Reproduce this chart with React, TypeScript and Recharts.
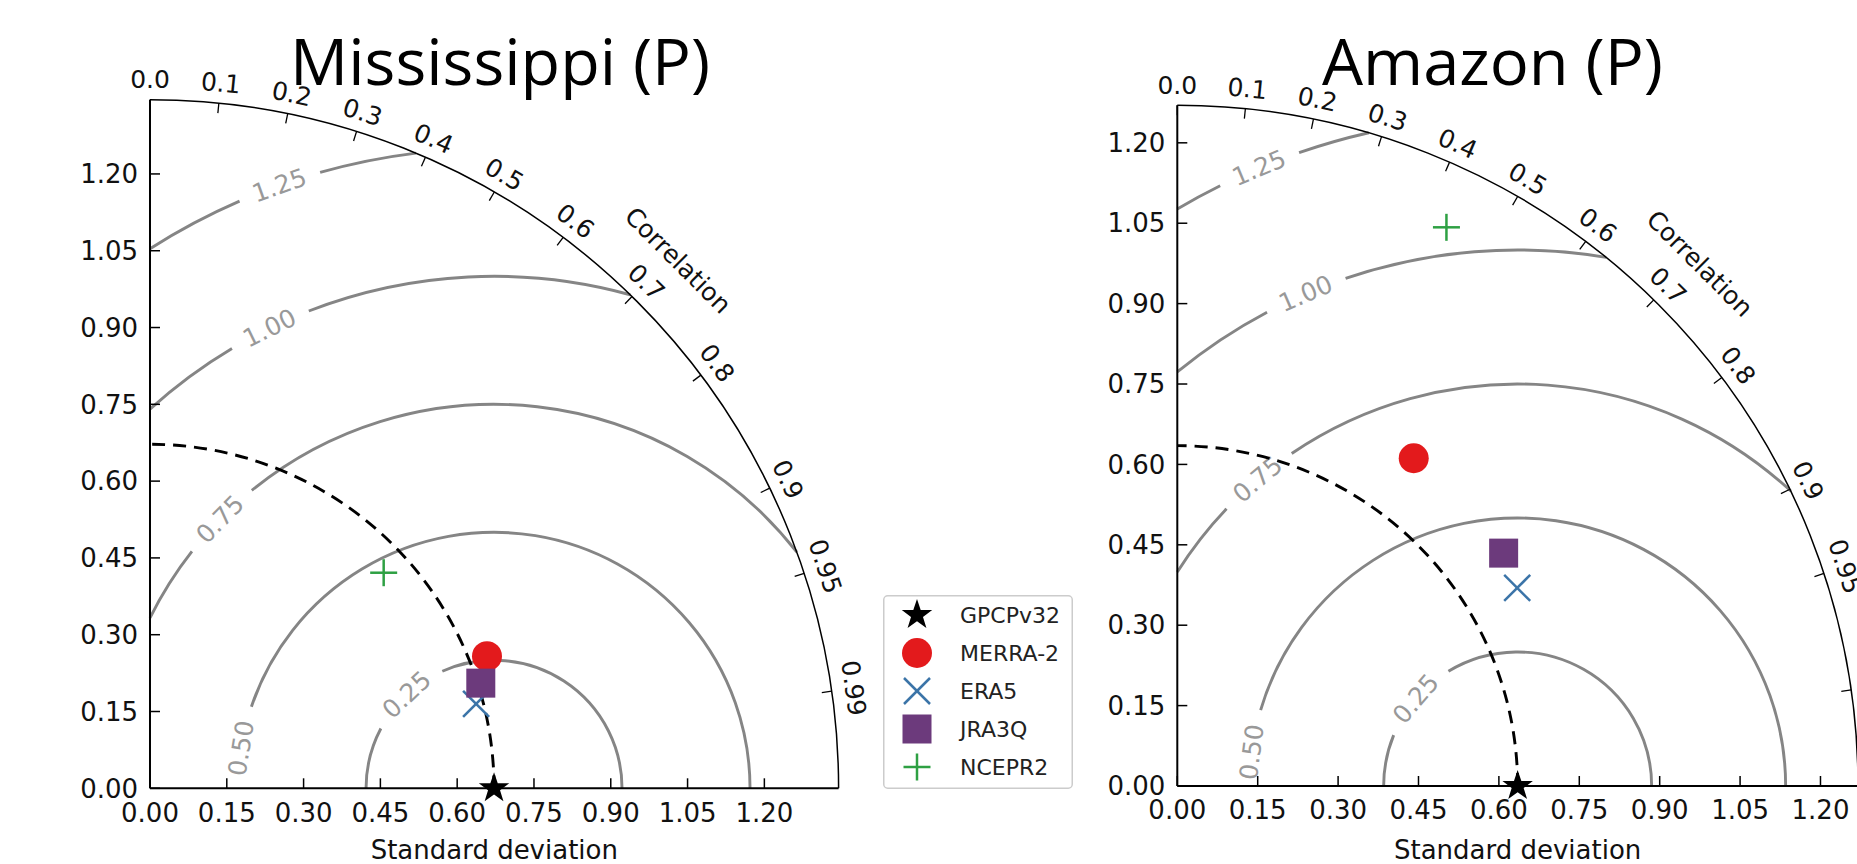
import React from "react";
import { ScatterChart, Scatter, XAxis, YAxis, ReferenceArea, Legend } from "recharts";

const models = ["GPCPv32", "MERRA-2", "ERA5", "JRA3Q", "NCEPR2"];
const modelColors = ["#000000", "#e31a1c", "#3b74a8", "#6c3a7c", "#2ea043"];
const modelMarkers = ["star", "circle", "x", "square", "plus"];

// standard deviation and correlation
const missStd = [0.672, 0.707, 0.658, 0.678, 0.621];
const missCorr = [1.0, 0.931, 0.968, 0.953, 0.735];
const amzStd = [0.635, 0.754, 0.734, 0.748, 1.157];
const amzCorr = [1.0, 0.585, 0.864, 0.814, 0.434];

const stdTicks = [0, 0.15, 0.3, 0.45, 0.6, 0.75, 0.9, 1.05, 1.2];
const corrTicks = [0, 0.1, 0.2, 0.3, 0.4, 0.5, 0.6, 0.7, 0.8, 0.9, 0.95, 0.99];
const corrTickLabels = ["0.0", "0.1", "0.2", "0.3", "0.4", "0.5", "0.6", "0.7", "0.8", "0.9", "0.95", "0.99"];
const rmsLevels = [0.25, 0.5, 0.75, 1.0, 1.25];

const FONT = "'DejaVu Sans', sans-serif";

const panels = [
  {
    title: "Mississippi (P)",
    std: missStd,
    corr: missCorr,
    maxStd: 1.345,
    left: 0,
    axisW: 150,
    top: 99.7,
    size: 688.6,
    bottom: 75.7,
    right: 260,
    rmsAngles: [133, 171, 135.5, 116, 109.6],
    titleX: 500,
    titleLen: 420,
    legend: true,
  },
  {
    title: "Amazon (P)",
    std: amzStd,
    corr: amzCorr,
    maxStd: 1.27,
    left: 900,
    axisW: 277.3,
    top: 105.3,
    size: 680.7,
    bottom: 78,
    right: 2,
    rmsAngles: [139.4, 172.7, 130.3, 113.3, 112.7],
    titleX: 1492.5,
    titleLen: 341,
    legend: false,
  },
];

const toXY = (s: number, c: number) => ({ x: s * c, y: s * Math.sqrt(Math.max(0, 1 - c * c)) });

function Marker({ cx, cy, kind, color }: { cx: number; cy: number; kind: string; color: string }) {
  if (cx == null || cy == null) return null;
  if (kind === "star") {
    const pts: string[] = [];
    for (let k = 0; k < 10; k++) {
      const r = k % 2 === 0 ? 16 : 6.3;
      const a = -Math.PI / 2 + (k * Math.PI) / 5;
      pts.push(`${cx + r * Math.cos(a)},${cy + r * Math.sin(a)}`);
    }
    return <polygon points={pts.join(" ")} fill={color} />;
  }
  if (kind === "circle") return <circle cx={cx} cy={cy} r={15} fill={color} />;
  if (kind === "square") return <rect x={cx - 14.5} y={cy - 14.5} width={29} height={29} fill={color} />;
  if (kind === "x") {
    const d = 13;
    return (
      <g stroke={color} strokeWidth={2.5}>
        <line x1={cx - d} y1={cy - d} x2={cx + d} y2={cy + d} />
        <line x1={cx - d} y1={cy + d} x2={cx + d} y2={cy - d} />
      </g>
    );
  }
  const d = 13.5;
  return (
    <g stroke={color} strokeWidth={2.5}>
      <line x1={cx - d} y1={cy} x2={cx + d} y2={cy} />
      <line x1={cx} y1={cy - d} x2={cx} y2={cy + d} />
    </g>
  );
}

// polar grid of the Taylor diagram, drawn inside the reference area that spans the whole plot
function TaylorGrid(p: any) {
  const { x, y, width, height, maxStd, refStd, rmsAngles } = p;
  if (![x, y, width, height].every((v) => typeof v === "number" && isFinite(v))) return null;
  const kx = width / maxStd;
  const ky = height / maxStd;
  const ox = x;
  const oy = y + height;
  const px = (u: number) => ox + u * kx;
  const py = (v: number) => oy - v * ky;
  const deg = (a: number) => (a * 180) / Math.PI;
  const arc = (cx: number, r: number, a0: number, a1: number) => {
    const x0 = px(cx + r * Math.cos(a0));
    const y0 = py(r * Math.sin(a0));
    const x1 = px(cx + r * Math.cos(a1));
    const y1 = py(r * Math.sin(a1));
    return `M${x0},${y0}A${r * kx},${r * ky} 0 ${a1 - a0 > Math.PI ? 1 : 0} 0 ${x1},${y1}`;
  };

  const contours = rmsLevels.map((r, i) => {
    const cMin = (maxStd * maxStd - refStd * refStd - r * r) / (2 * refStd * r);
    const a0 = cMin >= 1 ? 0 : Math.acos(Math.max(-1, cMin));
    const a1 = Math.acos(Math.max(-1, Math.min(1, -refStd / r)));
    const la = (rmsAngles[i] * Math.PI) / 180;
    const text = r.toFixed(2);
    const gap = (text.length * 0.556 * 25) / 2 + 15;
    const half = gap / ((r * (kx + ky)) / 2);
    const pieces = [
      [a0, la - half],
      [la + half, a1],
    ].filter(([a, b]) => b > a);
    const lx = px(refStd + r * Math.cos(la));
    const ly = py(r * Math.sin(la));
    return (
      <g key={r}>
        {pieces.map(([a, b], j) => (
          <path key={j} d={arc(refStd, r, a, b)} fill="none" stroke="#858585" strokeWidth={2.9} />
        ))}
        <text
          x={lx}
          y={ly}
          transform={`rotate(${90 - deg(la)} ${lx} ${ly})`}
          textAnchor="middle"
          dominantBaseline="central"
          fontSize={25}
          fill="#999999"
          fontFamily={FONT}
        >
          {text}
        </text>
      </g>
    );
  });

  const rx = maxStd * kx;
  const ry = maxStd * ky;
  const ticks = corrTicks.map((c, i) => {
    const t = Math.acos(c);
    const cs = Math.cos(t);
    const sn = Math.sin(t);
    const off = corrTickLabels[i].length > 3 ? 22 : 20;
    const lx = ox + (rx + off) * cs;
    const ly = oy - (ry + off) * sn;
    return (
      <g key={c}>
        <line x1={ox + rx * cs} y1={oy - ry * sn} x2={ox + (rx - 10) * cs} y2={oy - (ry - 10) * sn} stroke="#000" strokeWidth={1.3} />
        <text
          x={lx}
          y={ly}
          transform={`rotate(${90 - deg(t)} ${lx} ${ly})`}
          textAnchor="middle"
          dominantBaseline="central"
          fontSize={25}
          fill="#111"
          fontFamily={FONT}
        >
          {corrTickLabels[i]}
        </text>
      </g>
    );
  });

  const cx = ox + (rx + 58) * Math.cos(Math.PI / 4);
  const cy = oy - (ry + 58) * Math.sin(Math.PI / 4);

  return (
    <g>
      {contours}
      <path d={arc(0, maxStd, 0, Math.PI / 2)} fill="none" stroke="#000" strokeWidth={1.5} />
      {ticks}
      <text
        x={cx}
        y={cy}
        transform={`rotate(45 ${cx} ${cy})`}
        textAnchor="middle"
        dominantBaseline="central"
        fontSize={25}
        fill="#111"
        fontFamily={FONT}
      >
        Correlation
      </text>
      <path d={arc(0, refStd, 0, Math.PI / 2)} fill="none" stroke="#000" strokeWidth={2.9} strokeDasharray="13 8" />
    </g>
  );
}

function LegendBox() {
  return (
    <svg width={190} height={194} style={{ display: "block" }}>
      <rect x={0.75} y={0.75} width={188.5} height={192.5} rx={4} fill="#fff" stroke="#cccccc" strokeWidth={1.5} />
      {models.map((m, i) => {
        const cy = 20 + i * 38;
        return (
          <g key={m}>
            <Marker cx={34} cy={cy} kind={modelMarkers[i]} color={modelColors[i]} />
            <text x={77} y={cy} dominantBaseline="central" fontSize={22} fill="#222" fontFamily={FONT}>
              {m}
            </text>
          </g>
        );
      })}
    </svg>
  );
}

function TaylorPanel({ panel }: { panel: (typeof panels)[number] }) {
  const { std, corr, maxStd, axisW, top, size, bottom, right } = panel;
  const width = axisW + size + right;
  const height = top + size + bottom;
  const tickStyle = { fill: "#111", fontSize: 26, fontFamily: FONT };
  return (
    <div style={{ position: "absolute", left: panel.left, top: 0 }}>
      <ScatterChart width={width} height={height} margin={{ top, right, bottom: 0, left: 0 }}>
        <XAxis
          type="number"
          dataKey="x"
          domain={[0, maxStd]}
          ticks={stdTicks}
          interval={0}
          tickFormatter={(v: number) => v.toFixed(2)}
          height={bottom}
          tickSize={-10}
          tickMargin={25}
          tick={tickStyle}
          axisLine={{ stroke: "#000", strokeWidth: 2 }}
          tickLine={{ stroke: "#000", strokeWidth: 1.5 }}
          label={{ value: "Standard deviation", position: "insideBottom", offset: 5, fontSize: 26, fill: "#111", fontFamily: FONT }}
        />
        <YAxis
          type="number"
          dataKey="y"
          domain={[0, maxStd]}
          ticks={stdTicks}
          interval={0}
          tickFormatter={(v: number) => v.toFixed(2)}
          width={axisW}
          tickSize={-10}
          tickMargin={22}
          tick={tickStyle}
          axisLine={{ stroke: "#000", strokeWidth: 2 }}
          tickLine={{ stroke: "#000", strokeWidth: 1.5 }}
        />
        <ReferenceArea
          x1={0}
          x2={maxStd}
          y1={0}
          y2={maxStd}
          shape={(sp: any) => (
            <TaylorGrid {...sp} maxStd={maxStd} refStd={std[0]} rmsAngles={panel.rmsAngles} />
          )}
        />
        {models.map((m, i) => (
          <Scatter
            key={m}
            name={m}
            data={[toXY(std[i], corr[i])]}
            isAnimationActive={false}
            shape={(sp: any) => <Marker cx={sp.cx} cy={sp.cy} kind={modelMarkers[i]} color={modelColors[i]} />}
          />
        ))}
        {panel.legend && (
          <Legend
            layout="horizontal"
            verticalAlign="middle"
            align="center"
            wrapperStyle={{ position: "absolute", left: 883, top: 595, width: 190, height: 194 }}
            content={() => <LegendBox />}
          />
        )}
      </ScatterChart>
    </div>
  );
}

export default function App() {
  return (
    <div
      style={{
        position: "absolute",
        left: 0,
        top: 0,
        width: 1857,
        height: 864,
        overflow: "hidden",
        background: "#fff",
        fontFamily: FONT,
      }}
    >
      {panels.map((p) => (
        <TaylorPanel key={p.title} panel={p} />
      ))}
      <svg width={1857} height={864} style={{ position: "absolute", left: 0, top: 0, pointerEvents: "none" }}>
        {panels.map((p) => (
          <text
            key={p.title}
            x={p.titleX}
            y={85}
            textAnchor="middle"
            fontFamily="'Open Sans', sans-serif"
            fontSize={64}
            textLength={p.titleLen}
            lengthAdjust="spacingAndGlyphs"
            fill="#000"
          >
            {p.title}
          </text>
        ))}
      </svg>
    </div>
  );
}
